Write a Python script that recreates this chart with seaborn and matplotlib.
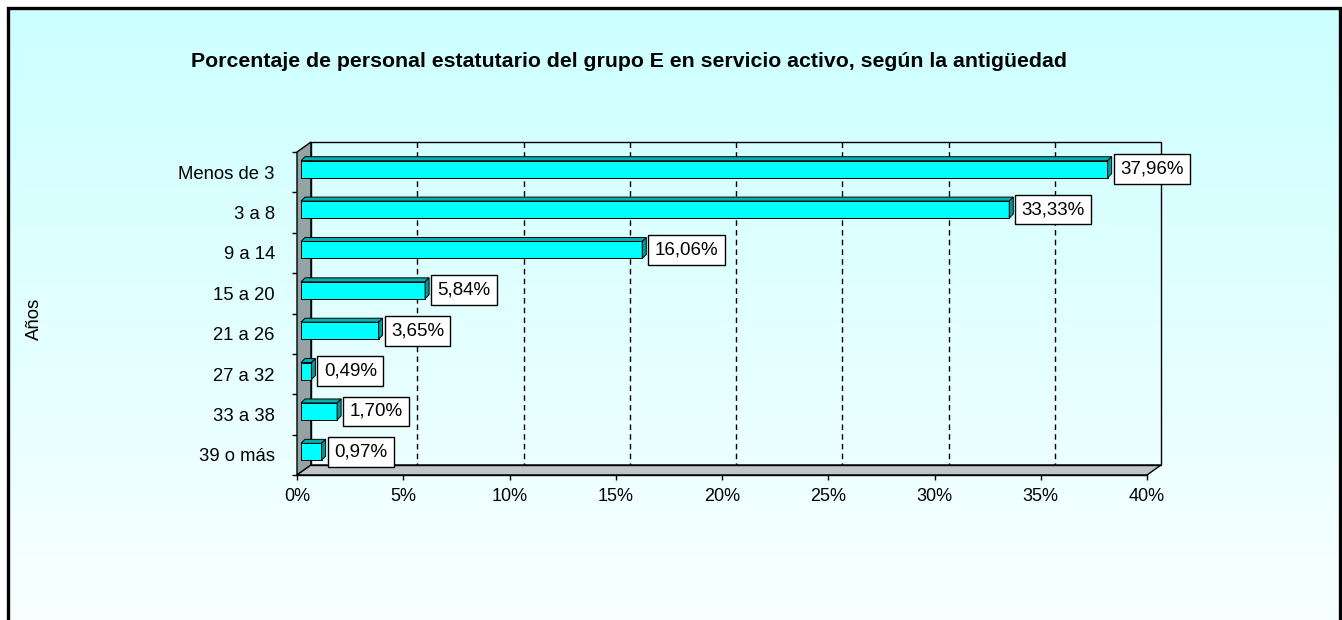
import numpy as np
import pandas as pd
import matplotlib
matplotlib.use("Agg")
import matplotlib.pyplot as plt
from matplotlib.patches import Polygon
import seaborn as sns

categories = ["Menos de 3", "3 a 8", "9 a 14", "15 a 20", "21 a 26",
              "27 a 32", "33 a 38", "39 o más"]
values = [37.96, 33.33, 16.06, 5.84, 3.65, 0.49, 1.70, 0.97]
value_labels = ["37,96%", "33,33%", "16,06%", "5,84%", "3,65%",
                "0,49%", "1,70%", "0,97%"]
x_ticks = [0, 5, 10, 15, 20, 25, 30, 35, 40]
x_tick_labels = ["0%", "5%", "10%", "15%", "20%", "25%", "30%", "35%", "40%"]
title = "Porcentaje de personal estatutario del grupo E en servicio activo, según la antigüedad"
y_title = "Años"

sns.set_theme(style="white")
plt.rcParams["font.family"] = ["Liberation Sans", "DejaVu Sans"]
plt.rcParams.update({"text.color": "black", "xtick.color": "black",
                     "ytick.color": "black", "axes.labelcolor": "black"})

W, H, DPI = 1342, 620, 100
fig = plt.figure(figsize=(W / DPI, H / DPI), dpi=DPI)
fig.patch.set_facecolor("white")

# background panel with vertical gradient and frame
bg = fig.add_axes([0, 0, 1, 1], zorder=0)
bg.set_xlim(0, W)
bg.set_ylim(H, 0)
bg.axis("off")
grad = np.linspace(0, 1, 256)[:, None]
top_c = np.array([0.80, 1.0, 1.0])
bot_c = np.array([0.975, 1.0, 1.0])
img = top_c[None, None, :] * (1 - grad[..., None]) + bot_c[None, None, :] * grad[..., None]
bg.imshow(img, extent=(8, 1339.5, H + 2, 8), aspect="auto", interpolation="bilinear")
bg.plot([8, 8, 1339.5, 1339.5], [H + 5, 8, 8, H + 5], color="black", lw=2.4,
        solid_joinstyle="miter")

# front plane of the plot: x 297..1147 px, y 152..475 px
x0px, x1px, y0px, y1px = 297, 1147, 152, 475
ax = fig.add_axes([x0px / W, 1 - y1px / H, (x1px - x0px) / W, (y1px - y0px) / H],
                  zorder=1)
ax.set_facecolor("none")

df = pd.DataFrame({"cat": categories, "val": values})
sns.barplot(data=df, x="val", y="cat", orient="h", color="#00FFFF",
            width=0.42, saturation=1, edgecolor="black", linewidth=0.7,
            ax=ax, zorder=5)

ax.set_xlim(0, 40)
ax.set_ylim(len(categories) - 0.5, -0.5)

ppx = 40 / (x1px - x0px)          # data units per pixel, x
ppy = len(categories) / (y1px - y0px)  # data units per pixel, y
wdx, wdy = 14 * ppx, 10 * ppy     # wall depth
bdx, bdy = 4 * ppx, 4 * ppy       # bar depth
ox, oy = 4 * ppx, 3 * ppy         # bars sit at mid depth

n = len(categories)
top, bot = -0.5, n - 0.5
# left wall
ax.add_patch(Polygon([(0, top), (wdx, top - wdy), (wdx, bot - wdy), (0, bot)],
                     closed=True, facecolor="#94A3A3", edgecolor="black",
                     lw=1.0, clip_on=False, zorder=2))
# floor
ax.add_patch(Polygon([(0, bot), (40, bot), (40 + wdx, bot - wdy), (wdx, bot - wdy)],
                     closed=True, facecolor="#C0C6C6", edgecolor="black",
                     lw=1.0, clip_on=False, zorder=2))
# back wall
ax.add_patch(Polygon([(wdx, top - wdy), (40 + wdx, top - wdy),
                      (40 + wdx, bot - wdy), (wdx, bot - wdy)],
                     closed=True, facecolor="none", edgecolor="black",
                     lw=1.0, clip_on=False, zorder=2))
for xv in x_ticks[1:-1]:
    ax.plot([xv + wdx, xv + wdx], [top - wdy, bot - wdy], color="black",
            lw=1.0, ls=(0, (4, 3)), clip_on=False, zorder=2)

# 3D faces of the bars and value boxes
for p, lab in zip(ax.patches, value_labels):
    p.set_x(p.get_x() + ox)
    p.set_y(p.get_y() - oy)
    p.set_clip_on(False)
    xa, xb = p.get_x(), p.get_x() + p.get_width()
    yt, yb = p.get_y(), p.get_y() + p.get_height()
    ax.add_patch(Polygon([(xa, yt), (xa + bdx, yt - bdy), (xb + bdx, yt - bdy), (xb, yt)],
                         closed=True, facecolor="#00B0B0", edgecolor="black",
                         lw=0.7, clip_on=False, zorder=5))
    ax.add_patch(Polygon([(xb, yt), (xb + bdx, yt - bdy), (xb + bdx, yb - bdy), (xb, yb)],
                         closed=True, facecolor="#009999", edgecolor="black",
                         lw=0.7, clip_on=False, zorder=5))
    pad_pt = 4.6
    ax.annotate(lab, xy=(xb, (yt + yb) / 2), xytext=(6 * 0.72 + pad_pt, 0),
                textcoords="offset points", ha="left", va="center",
                fontsize=13.5, color="black", zorder=6, annotation_clip=False,
                bbox=dict(boxstyle=f"square,pad={pad_pt / 13.5:.3f}",
                          facecolor="white", edgecolor="black", lw=1.0))

for s in ax.spines.values():
    s.set_visible(False)

ax.set_xticks(x_ticks)
ax.set_xticklabels(x_tick_labels, fontsize=13)
ax.tick_params(axis="x", bottom=True, length=5 * 0.72, width=1.0, color="black",
               pad=6, direction="out")
ax.plot([0, 40], [bot, bot], color="black", lw=1.0, clip_on=False, zorder=3)

ax.set_yticks(range(n))
ax.set_yticklabels(categories, fontsize=13.3)
ax.set_yticks(np.arange(-0.5, n, 1.0), minor=True)
ax.tick_params(axis="y", which="major", left=False, length=0, pad=16)
ax.tick_params(axis="y", which="minor", left=True, length=5 * 0.72, width=1.0,
               color="black", direction="out")
ax.set_xlabel("")
ax.set_ylabel(y_title, fontsize=13.3, color="black")
ax.yaxis.set_label_coords((43 - x0px) / (x1px - x0px), (y1px - 319) / (y1px - y0px))

fig.text(629 / W, 1 - 67 / H, title, ha="center", va="baseline",
         fontsize=15.3, fontweight="bold", color="black")

fig.savefig("out.png", dpi=DPI)
